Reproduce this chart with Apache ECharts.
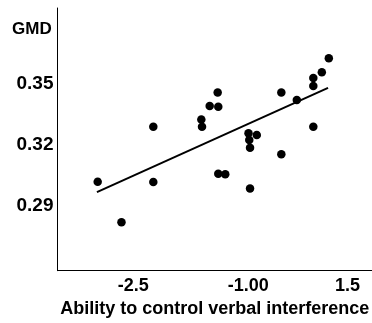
<!DOCTYPE html>
<html>
<head>
<meta charset="utf-8">
<script src="https://cdn.jsdelivr.net/npm/echarts@6/dist/echarts.min.js"></script>
<style>
  html, body { margin: 0; padding: 0; background: #fff; }
  #chart { width: 372px; height: 323px; }
</style>
</head>
<body>
<div id="chart"></div>
<script>
// scatter points: control score vs GMD
const scoreX = [-2.964, -2.654, -2.239, -2.239, -1.613, -1.604, -1.504, -1.400, -1.392, -1.392,
  -1.301, -0.998, -0.890, -0.988, -0.978, -0.978, -0.570, -0.570, -0.368, -0.153,
  -0.153, -0.153, -0.042, 0.049];
const gmdY = [0.3018, 0.2818, 0.3289, 0.3016, 0.3324, 0.3289, 0.3391, 0.3457, 0.3387, 0.3057,
  0.3054, 0.3256, 0.3248, 0.3223, 0.3185, 0.2984, 0.3457, 0.3153, 0.3420, 0.3529,
  0.3489, 0.3289, 0.3557, 0.3626];

// fitted line ends
const fitX = [-2.974, 0.039];
const fitY = [0.2966, 0.3480];

// tick labels (printed labels do not follow the scale)
const xTickValues = [-2.5, -1.0, 0.293];
const xTickLabels = ['-2.5', '-1.00', '1.5'];
const yTickValues = [0.29, 0.32, 0.35];
const yTickLabels = ['0.29', '0.32', '0.35'];

const chart = echarts.init(document.getElementById('chart'));

const font = '"Liberation Sans", Arial, sans-serif';

const pick = (ticks, labels) => (v) => {
  const i = ticks.findIndex((t) => Math.abs(t - v) < 1e-6);
  return i >= 0 ? labels[i] : '';
};

const option = {
  animation: false,
  title: {
    text: 'GMD',
    left: 12,
    top: 21,
    padding: 0,
    textStyle: { fontFamily: font, fontSize: 17, fontWeight: 'bold', color: '#000' },
  },
  grid: { left: 57.5, right: 0, top: 8, bottom: 52.3, outerBoundsMode: 'none' },
  xAxis: {
    type: 'value',
    min: -3.488,
    max: 0.612,
    name: 'Ability to control verbal interference',
    nameLocation: 'middle',
    nameGap: 25,
    nameTextStyle: { fontFamily: font, fontSize: 18, fontWeight: 'bold', color: '#000' },
    axisLine: { show: true, onZero: false, lineStyle: { color: '#000', width: 1 } },
    axisTick: { show: false },
    splitLine: { show: false },
    axisLabel: {
      customValues: xTickValues,
      margin: 6,
      fontFamily: font,
      fontSize: 18,
      fontWeight: 'bold',
      color: '#000',
      formatter: pick(xTickValues, xTickLabels),
    },
  },
  yAxis: {
    type: 'value',
    min: 0.2579,
    max: 0.3874,
    axisLine: { show: true, onZero: false, lineStyle: { color: '#000', width: 1 } },
    axisTick: { show: false },
    splitLine: { show: false },
    axisLabel: {
      customValues: yTickValues,
      margin: 4,
      fontFamily: font,
      fontSize: 19,
      fontWeight: 'bold',
      color: '#000',
      formatter: pick(yTickValues, yTickLabels),
    },
  },
  series: [
    {
      type: 'line',
      data: fitX.map((x, i) => [x, fitY[i]]),
      showSymbol: false,
      lineStyle: { color: '#000', width: 2 },
      z: 1,
    },
    {
      type: 'scatter',
      data: scoreX.map((x, i) => [x, gmdY[i]]),
      symbol: 'circle',
      symbolSize: 8.5,
      itemStyle: { color: '#000', opacity: 1 },
      z: 2,
    },
  ],
};

chart.setOption(option);
</script>
</body>
</html>
